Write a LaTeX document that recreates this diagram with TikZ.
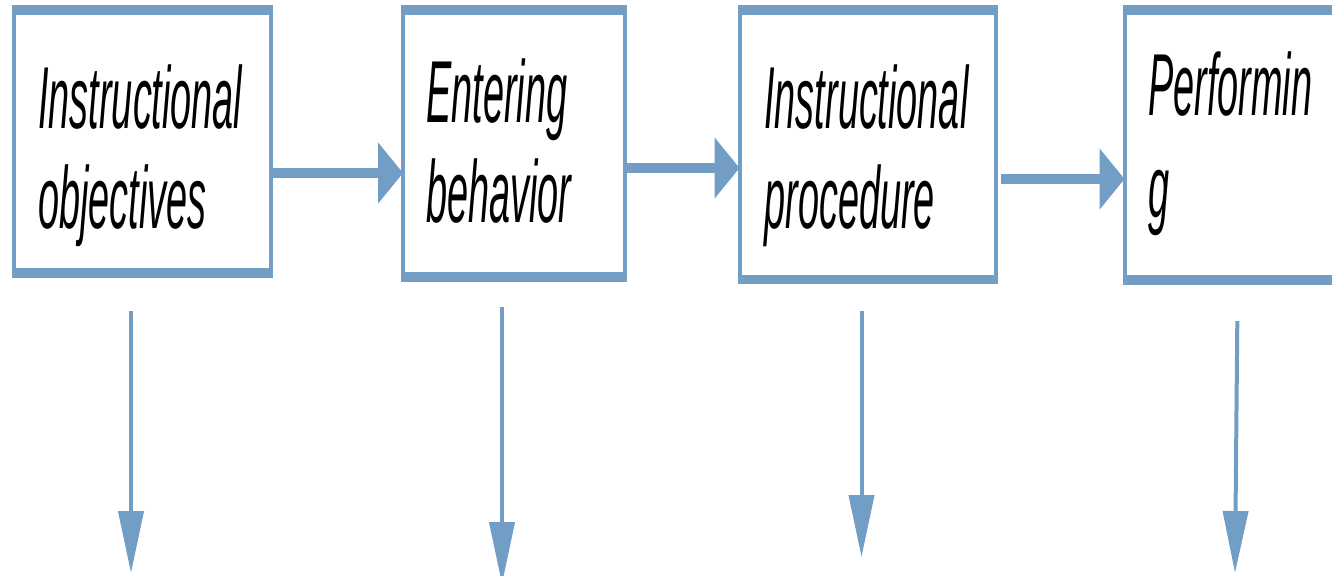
\documentclass[tikz,border=0pt]{standalone}
\usepackage{fontspec}
\newfontfamily\boxfont[FakeStretch=0.43]{Liberation Sans}
\usetikzlibrary{arrows.meta}
\definecolor{flowblue}{RGB}{114,158,198}
\begin{document}
\begin{tikzpicture}[x=0.5pt, y=-0.5pt,
    stage/.style={rectangle, draw=flowblue, line width=2pt, inner sep=0pt, outer sep=0pt},
    hedge/.style={draw=flowblue, line width=4.75pt, shorten <=-1pt, shorten >=-1pt},
    lbl/.style={anchor=base west, align=left, inner sep=0pt, font=\boxfont\itshape\fontsize{44}{50}\selectfont},
    harrow/.style={draw=flowblue, line width=5pt, -{Triangle[length=12.5pt,width=30pt]}},
    varrow/.style={draw=flowblue, line width=2pt, -{Triangle[length=31pt,width=12.5pt]}}]
  \useasboundingbox (0,0) rectangle (1332,575);
  \clip (0,0) rectangle (1332,575);
  % stages
  \node[stage, minimum width=128.5pt, minimum height=131.5pt] (b1) at (142.5,141.5) {};
  \node[stage, minimum width=111pt, minimum height=133.5pt] (b2) at (514,143.5) {};
  \node[stage, minimum width=128.25pt, minimum height=134.75pt] (b3) at (867.75,144.75) {};
  \node[stage, minimum width=112.75pt, minimum height=135pt] (b4) at (1237.25,145) {};
  \foreach \b in {b1,b2,b3,b4}{
    \draw[hedge] (\b.north west) -- (\b.north east);
    \draw[hedge] (\b.south west) -- (\b.south east);}
  % labels (base = last line)
  \node[lbl] (t1) at (38,228) {Instructional\\objectives};
  \node[lbl] (t2) at (426,222) {Entering\\behavior};
  \node[lbl] (t3) at (764,228) {Instructional\\procedure};
  \node[lbl, font=\boxfont\itshape\fontsize{44}{51}\selectfont] (t4) at (1148,217) {Performin\\g};
  % flow
  \coordinate (h1) at ([shift={(2,31.5)}]b1.east);
  \coordinate (h2) at ([shift={(2,24.5)}]b2.east);
  \coordinate (h3) at ([shift={(5,34.25)}]b3.east);
  \draw[harrow] (h1) -- (h1 -| b2.west);
  \draw[harrow] (h2) -- (h2 -| b3.west);
  \draw[harrow] (h3) -- (h3 -| b4.west);
  \foreach \i/\xa/\ya/\xb/\yb in {1/131/311/131/573, 2/502/307/502/584, 3/861.5/311/861.5/557, 4/1237.3/321/1235/573}{
    \coordinate (v\i) at (\xa,\ya);
    \coordinate (w\i) at (\xb,\yb);
    \draw[varrow] (v\i) -- (w\i);}
\end{tikzpicture}
\end{document}
